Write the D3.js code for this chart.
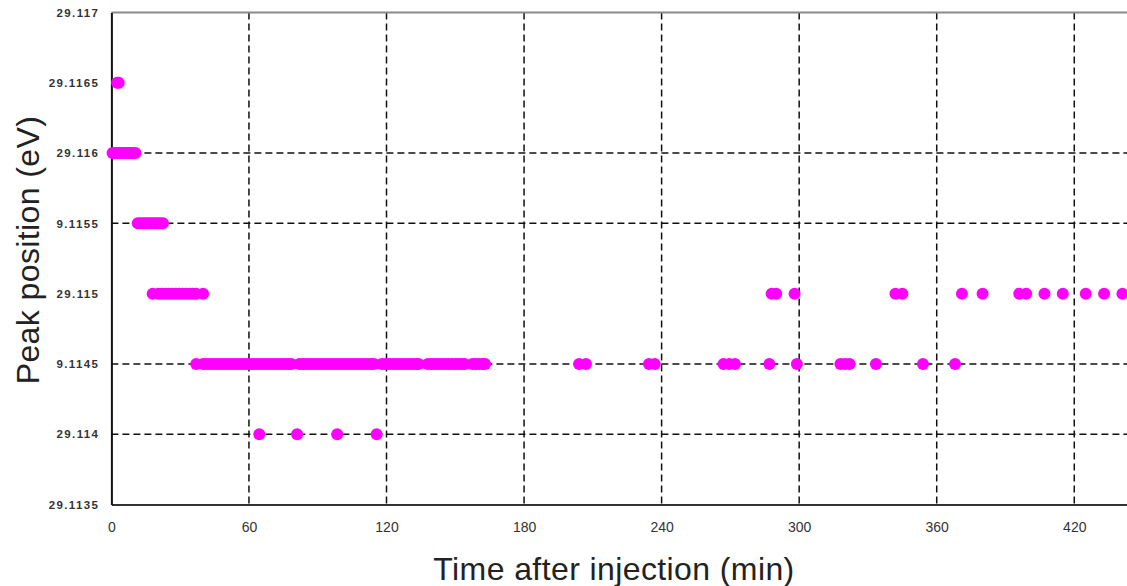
<!DOCTYPE html>
<html>
<head>
<meta charset="utf-8">
<script src="https://cdn.jsdelivr.net/npm/d3@7"></script>
<style>
  html, body { margin: 0; padding: 0; background: #fff; }
  svg { display: block; }
</style>
</head>
<body>
<svg id="chart" width="1127" height="586"></svg>
<script>
// Axis ticks
const xTicks = [0, 60, 120, 180, 240, 300, 360, 420];
const yTicks = [29.117, 29.1165, 29.116, 29.1155, 29.115, 29.1145, 29.114, 29.1135];
const yTickLabels = ["29.117", "29.1165", "29.116", "9.1155", "29.115", "9.1145", "29.114", "29.1135"];
const yGridValues = [29.116, 29.1155, 29.1145, 29.114];

// Observation times (min) at each fitted peak position (eV)
const times_29_1165 = [2.5, 3.2];
const times_29_1160 = [0.5, 1.5, 2.5, 3.5, 4.5, 5.5, 6.5, 7.5, 8.5, 9.5, 10.5];
const times_29_1155 = [11.5, 12.5, 13.5, 14.5, 15.5, 16.5, 17.5, 18.5, 19.5, 20.5, 21.5, 22.5];
const times_29_1150 = [18, 20.5, 22, 23.5, 25, 26.5, 28, 29.5, 31, 32.5, 34, 35.5, 37, 40,
  288, 290, 298, 342, 345, 371, 380, 396, 399, 407, 415, 425, 433, 441];
const times_29_1145 = [37,
  40, 41.5, 43, 44.5, 46, 47.5, 49, 50.5, 52, 53.5, 55, 56.5, 58, 59.5, 61, 62.5, 64, 65.5,
  67, 68.5, 70, 71.5, 73, 74.5, 76, 77.5, 78.5,
  82, 83.5, 85, 86.5, 88, 89.5, 91, 92.5, 94, 95.5, 97, 98.5, 100, 101.5, 103, 104.5, 106,
  107.5, 109, 110.5, 112, 113.5, 114.5,
  118, 119.5, 121, 122.5, 124, 125.5, 127, 128.5, 130, 131.5, 133, 134,
  138, 139.5, 141, 142.5, 144, 145.5, 147, 148.5, 150, 151.5, 153, 154,
  157.5, 159, 160.5, 162, 163,
  204, 207, 234.5, 237, 267, 269.5, 272, 287, 299, 318, 320, 322, 333.5, 354, 368];
const times_29_1140 = [64.5, 81, 98.5, 115.7];

const series = [
  { energy: 29.1165, times: times_29_1165 },
  { energy: 29.116, times: times_29_1160 },
  { energy: 29.1155, times: times_29_1155 },
  { energy: 29.115, times: times_29_1150 },
  { energy: 29.1145, times: times_29_1145 },
  { energy: 29.114, times: times_29_1140 }
];
const points = series.flatMap(s => s.times.map(t => ({ t, e: s.energy })));

const svg = d3.select("#chart");
const plotLeft = 111.4, plotRight = 1127, plotTop = 12.5, plotBottom = 504.5;
const font = "Liberation Sans, Arial, Helvetica, sans-serif";

const x = d3.scaleLinear().domain([0, 443]).range([plotLeft, plotRight]);
const y = d3.scaleLinear().domain([29.1135, 29.117]).range([plotBottom, plotTop]);

// Dashed grid
const grid = svg.append("g").attr("stroke", "#111").attr("stroke-width", 1.5)
  .attr("stroke-dasharray", "7,4").attr("fill", "none");
grid.selectAll("line.v").data(xTicks.filter(d => d > 0)).join("line")
  .attr("class", "v")
  .attr("x1", d => x(d)).attr("x2", d => x(d))
  .attr("y1", plotTop).attr("y2", plotBottom);
grid.selectAll("line.h").data(yGridValues).join("line")
  .attr("class", "h")
  .attr("x1", plotLeft).attr("x2", plotRight)
  .attr("y1", d => y(d)).attr("y2", d => y(d));

// Top frame edge
svg.append("line").attr("x1", plotLeft).attr("x2", plotRight)
  .attr("y1", plotTop).attr("y2", plotTop)
  .attr("stroke", "#8a8a8a").attr("stroke-width", 2);

// Axes
const xAxis = d3.axisBottom(x).tickValues(xTicks).tickSize(0).tickPadding(18)
  .tickFormat(d3.format("d"));
const gx = svg.append("g").attr("transform", `translate(0,${plotBottom})`).call(xAxis);
gx.select(".domain").attr("stroke", "#333").attr("stroke-width", 2);
gx.selectAll("text").attr("font-family", font)
  .attr("font-size", 14).attr("fill", "#333");

const yAxis = d3.axisLeft(y).tickValues(yTicks).tickSize(0).tickPadding(12)
  .tickFormat((d, i) => yTickLabels[i]);
const gy = svg.append("g").attr("transform", `translate(${plotLeft},0)`).call(yAxis);
gy.select(".domain").attr("stroke", "#111").attr("stroke-width", 2);
gy.selectAll("text").attr("font-family", font)
  .attr("font-size", 11.5).attr("letter-spacing", "1.4px").attr("fill", "#333")
  .attr("font-weight", "bold");

// Peak positions
svg.append("g").selectAll("circle").data(points).join("circle")
  .attr("cx", d => x(d.t)).attr("cy", d => y(d.e)).attr("r", 6)
  .attr("fill", "#ff00ff");

// Axis titles
svg.append("text").attr("x", 614).attr("y", 580).attr("text-anchor", "middle")
  .attr("font-family", font).attr("font-size", 32).attr("letter-spacing", "0.4px")
  .attr("fill", "#222").text("Time after injection (min)");
svg.append("text").attr("transform", "translate(39,250) rotate(-90)")
  .attr("text-anchor", "middle")
  .attr("font-family", font).attr("font-size", 32).attr("letter-spacing", "0.4px")
  .attr("fill", "#222").text("Peak position (eV)");
</script>
</body>
</html>
